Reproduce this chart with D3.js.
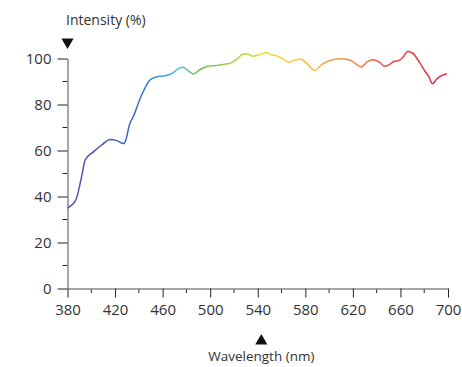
<!DOCTYPE html>
<html>
<head>
<meta charset="utf-8">
<script src="https://cdn.jsdelivr.net/npm/d3@7"></script>
<style>
  body { margin: 0; background: #fff; }
  text { font-family: "Open Sans", "Noto Sans", sans-serif; }
</style>
</head>
<body>
<div id="graph"></div>
<script>
// wavelength (nm) and intensity (%)
const wavelength = [380, 387, 392, 395, 402, 409, 416, 422, 427, 429, 432, 436, 441, 445, 449, 455, 462, 468, 473, 477, 482, 486, 491, 497, 505, 512, 517, 522, 528, 532, 536, 542, 547, 552, 557, 562, 566, 571, 576, 581, 588, 593, 598, 604, 609, 614, 619, 623, 627, 632, 637, 642, 647, 651, 654, 659, 662, 666, 670, 676, 680, 684, 687, 690, 694, 699];
const intensity  = [35, 38.5, 49, 56, 59.5, 62.5, 64.8, 64.2, 63, 64.5, 71, 75.5, 82.5, 87, 90.5, 92, 92.5, 93.5, 95.5, 96.2, 94.5, 93.3, 95, 96.5, 97, 97.5, 98, 99.5, 102, 101.8, 101, 101.8, 102.6, 101.5, 101, 99.5, 98.4, 99.2, 99.8, 98, 94.8, 97, 98.6, 99.6, 99.9, 99.7, 99, 97.5, 96.3, 98.5, 99.5, 98.5, 96.6, 97.4, 98.6, 99.2, 100.5, 103, 102.4, 98.3, 95, 92, 89, 90.8, 92.4, 93.4];

const xTicks = [380, 420, 460, 500, 540, 580, 620, 660, 700];
const yTicks = [0, 20, 40, 60, 80, 100];

// spectrum colours along the wavelength axis
const stopNm     = [380, 395, 412, 435, 460, 472, 490, 520, 545, 570, 600, 630, 655, 700];
const stopColour = ["#7050a8", "#5a4cb0", "#4058b4", "#3b6cc0", "#3a9ad8", "#45c4d0", "#6cbc50", "#a8d040", "#e8e22a", "#f8c830", "#f5a440", "#f07844", "#ec4448", "#e8203e"];

const width = 462, height = 367;
const plotLeft = 67.5, plotRight = 448, plotTop = 58.5, plotBottom = 288.5;

const svg = d3.select("#graph")
    .append("svg")
    .attr("width", width)
    .attr("height", height);

const x = d3.scaleLinear().domain([380, 700]).range([plotLeft, plotRight]);
const y = d3.scaleLinear().domain([0, 100]).range([plotBottom, plotTop]);

const grad = svg.append("defs").append("linearGradient")
    .attr("id", "spectrum")
    .attr("gradientUnits", "userSpaceOnUse")
    .attr("x1", x(380)).attr("x2", x(700))
    .attr("y1", 0).attr("y2", 0);
grad.selectAll("stop")
    .data(stopNm)
    .join("stop")
    .attr("offset", (d) => (d - 380) / 320)
    .attr("stop-color", (d, i) => stopColour[i]);

// minor ticks
const minorX = d3.range(400, 700, 40);
const minorY = d3.range(10, 100, 20);
svg.append("g").selectAll("line").data(minorX).join("line")
    .attr("x1", (d) => x(d)).attr("x2", (d) => x(d))
    .attr("y1", plotBottom).attr("y2", plotBottom + 4.5)
    .attr("stroke", "#222").attr("stroke-width", 1);
svg.append("g").selectAll("line").data(minorY).join("line")
    .attr("x1", plotLeft - 5).attr("x2", plotLeft)
    .attr("y1", (d) => y(d)).attr("y2", (d) => y(d))
    .attr("stroke", "#222").attr("stroke-width", 1);

const xAxis = svg.append("g")
    .attr("transform", `translate(0,${plotBottom})`)
    .call(d3.axisBottom(x).tickValues(xTicks).tickSize(9).tickPadding(7).tickSizeOuter(0));
const yAxis = svg.append("g")
    .attr("transform", `translate(${plotLeft},0)`)
    .call(d3.axisLeft(y).tickValues(yTicks).tickSize(10).tickPadding(6).tickSizeOuter(0));

[xAxis, yAxis].forEach((g) => {
    g.select(".domain").attr("stroke", "#888").attr("stroke-width", 1.5);
    g.selectAll(".tick line").attr("stroke", "#222");
    g.selectAll(".tick text").attr("fill", "#333").style("font-size", "15px").style("font-family", "'Open Sans', sans-serif");
});

const points = wavelength.map((w, i) => [w, intensity[i]]);
svg.append("path")
    .datum(points)
    .attr("fill", "none")
    .attr("stroke", "url(#spectrum)")
    .attr("stroke-width", 1.5)
    .attr("d", d3.line()
        .x((d) => x(d[0]))
        .y((d) => y(d[1]))
        .curve(d3.curveMonotoneX));

// axis titles and markers
svg.append("text")
    .attr("x", 66).attr("y", 25)
    .attr("fill", "#333")
    .style("font-size", "14px")
    .text("Intensity (%)");
svg.append("path")
    .attr("d", d3.symbol(d3.symbolTriangle, 64)())
    .attr("transform", `translate(${plotLeft},42) rotate(180)`)
    .attr("fill", "#111");

svg.append("path")
    .attr("d", d3.symbol(d3.symbolTriangle, 64)())
    .attr("transform", `translate(${x(543)},341)`)
    .attr("fill", "#111");
svg.append("text")
    .attr("x", x(543)).attr("y", 361)
    .attr("text-anchor", "middle")
    .attr("fill", "#333")
    .style("font-size", "13.5px")
    .text("Wavelength (nm)");
</script>
</body>
</html>
